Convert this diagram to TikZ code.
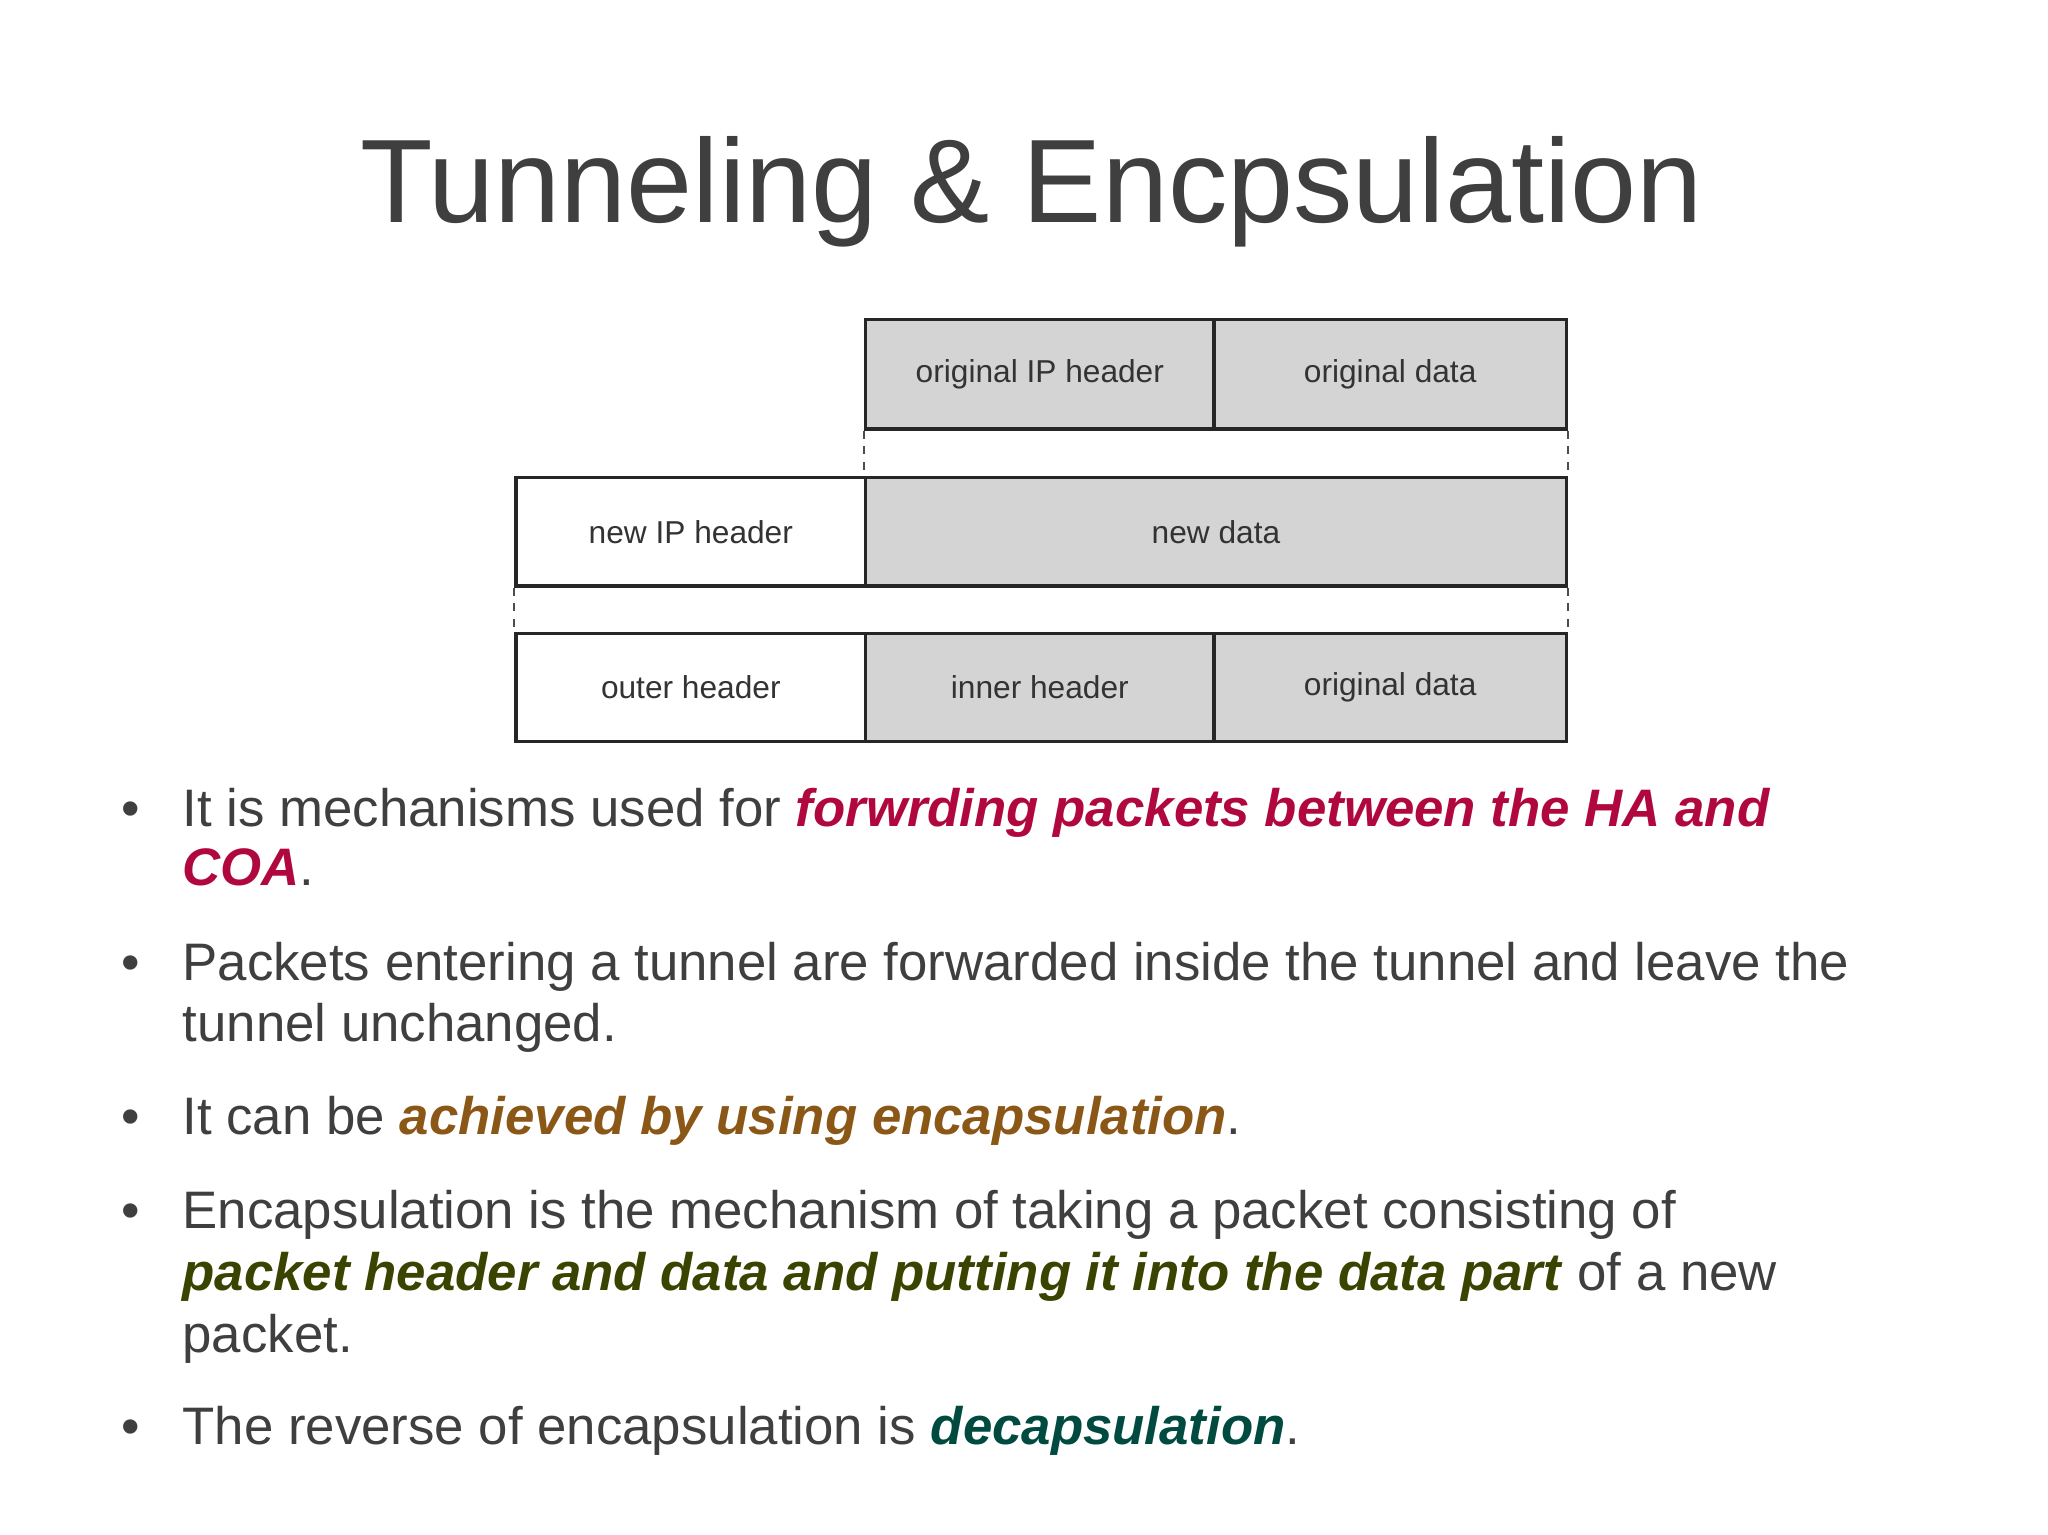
\documentclass[tikz,border=0pt]{standalone}
\usepackage{fontspec}
\setmainfont{Liberation Sans}
\definecolor{txt}{HTML}{3F3F3F}
\definecolor{cred}{HTML}{B0083E}
\definecolor{cbrown}{HTML}{8A5716}
\definecolor{colive}{HTML}{3A4400}
\definecolor{cteal}{HTML}{004A40}
\definecolor{boxg}{HTML}{D4D4D4}
\begin{document}
\begin{tikzpicture}[x=0.5pt,y=-0.5pt,
  pkt/.style={draw=black!85,line width=1.3pt,inner sep=0pt,font=\fontsize{12}{14}\selectfont,text=black!80},
  gry/.style={pkt,fill=boxg},
  wht/.style={pkt,fill=white},
  ln/.style={anchor=base west,inner sep=0pt,text=txt,font=\fontsize{20}{24}\selectfont},
  bul/.style={anchor=base west,inner sep=0pt,text=txt,font=\fontsize{20}{24}\selectfont},
  dsh/.style={dashed,black!70,line width=0.6pt,dash pattern=on 3pt off 3pt}]
\useasboundingbox (0,0) rectangle (1552,1163);
\node[text=txt,font=\fontsize{45}{50}\selectfont] (title) at (782,145) {Tunneling \& Encpsulation};
% boxes
\node[gry,minimum width=132pt,minimum height=41.5pt] (oih) at (788,283.5) {original IP header};
\node[gry,minimum width=133.5pt,minimum height=41.5pt] (od1) at (1053.5,283.5) {original data};
\node[wht,minimum width=132.5pt,minimum height=41pt] (nih) at (523.5,403) {new IP header};
\node[gry,minimum width=265.5pt,minimum height=41pt] (nd) at (921.5,403) {new data};
\node[wht,minimum width=132.5pt,minimum height=41pt] (outh) at (523.5,521) {outer header};
\node[gry,minimum width=132pt,minimum height=41pt] (inh) at (788,521) {inner header};
\node[gry,minimum width=133.5pt,minimum height=41pt] (od2) at (1053.5,521) {original data};
\draw[dsh] (oih.south west) -- (nd.north west);
\draw[dsh] (od1.south east) -- (nd.north east);
\draw[dsh] (nih.south west) -- (outh.north west);
\draw[dsh] (nd.south east) -- (od2.north east);
% bullets
\foreach \y/\n in {626/a,743/b,860/c,931/d,1095/e}{\node[bul] (bul\n) at (92,\y) {•};}
\node[ln] (l1) at (138,626) {It is mechanisms used for \textcolor{cred}{\textbf{\textit{forwrding packets between the HA and}}}};
\node[ln] (l2) at (138,671) {\textcolor{cred}{\textbf{\textit{COA}}}.};
\node[ln] (l3) at (138,743) {Packets entering a tunnel are forwarded inside the tunnel and leave the};
\node[ln] (l4) at (138,789) {tunnel unchanged.};
\node[ln] (l5) at (138,860) {It can be \textcolor{cbrown}{\textbf{\textit{achieved by using encapsulation}}}.};
\node[ln] (l6) at (138,931) {Encapsulation is the mechanism of taking a packet consisting of};
\node[ln] (l7) at (138,978) {\textcolor{colive}{\textbf{\textit{packet header and data and putting it into the data part}}} of a new};
\node[ln] (l8) at (138,1025) {packet.};
\node[ln] (l9) at (138,1095) {The reverse of encapsulation is \textcolor{cteal}{\textbf{\textit{decapsulation}}}.};
\end{tikzpicture}
\end{document}
